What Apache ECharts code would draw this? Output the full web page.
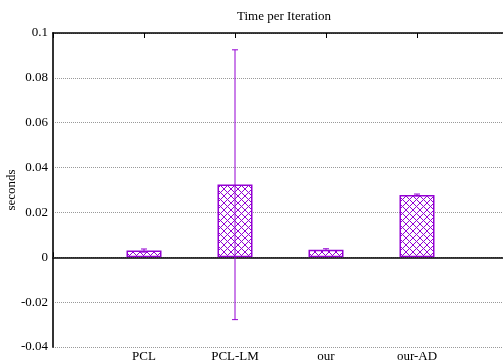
<!DOCTYPE html>
<html>
<head>
<meta charset="utf-8">
<script src="https://cdn.jsdelivr.net/npm/echarts@6/dist/echarts.min.js"></script>
<style>
  html, body { margin: 0; padding: 0; background: #fff; }
  #chart { width: 503px; height: 364px; }
</style>
</head>
<body>
<div id="chart"></div>
<script>
// data
var categories = ["", "PCL", "PCL-LM", "our", "our-AD", ""];
var times = [null, 0.0030, 0.0324, 0.0034, 0.0278, null];
var errLow = [null, 0.0023, -0.0278, 0.0030, 0.0274, null];
var errHigh = [null, 0.0037, 0.0925, 0.0038, 0.0282, null];
var yTicks = { min: -0.04, max: 0.1, step: 0.02 };

var purple = "#9400d3";
var font = "Liberation Serif";

// crosshatch fill for the bars
function hatch() {
    var c = document.createElement("canvas");
    c.width = 7;
    c.height = 7;
    var g = c.getContext("2d");
    g.fillStyle = "#fff";
    g.fillRect(0, 0, 7, 7);
    g.strokeStyle = purple;
    g.lineWidth = 1;
    g.beginPath();
    g.moveTo(0, 0); g.lineTo(7, 7);
    g.moveTo(7, 0); g.lineTo(0, 7);
    g.stroke();
    return c;
}

var errData = [];
for (var i = 0; i < categories.length; i++) {
    if (errLow[i] !== null) errData.push([i, errLow[i], errHigh[i]]);
}

var chart = echarts.init(document.getElementById("chart"));
chart.setOption({
    animation: false,
    title: {
        text: "Time per Iteration",
        left: 279,
        top: 5,
        textAlign: "center",
        textStyle: { fontFamily: font, fontSize: 13, fontWeight: "normal", color: "#000" }
    },
    // y axis title, rotated
    graphic: [{
        type: "text",
        x: 12,
        y: 190,
        rotation: Math.PI / 2,
        style: {
            text: "seconds",
            font: "13px 'Liberation Serif'",
            fill: "#000",
            align: "center",
            verticalAlign: "middle"
        }
    }],
    grid: { left: 53, right: -5, top: 33, bottom: 17, outerBoundsMode: "none", containLabel: false },
    xAxis: [
        {
            type: "category",
            data: categories,
            boundaryGap: false,
            axisLine: { lineStyle: { color: "#000", width: 1.5 } },
            axisTick: { inside: true, length: 5, lineStyle: { color: "#000" } },
            axisLabel: { fontFamily: font, fontSize: 13, color: "#000", margin: 3, interval: 0 },
            splitLine: { show: false }
        },
        {
            type: "category",
            data: categories,
            boundaryGap: false,
            position: "top",
            axisLine: { lineStyle: { color: "#000", width: 1.5 } },
            axisTick: { inside: true, length: 5, lineStyle: { color: "#000" } },
            axisLabel: { show: false },
            splitLine: { show: false }
        }
    ],
    yAxis: {
        type: "value",
        min: yTicks.min,
        max: yTicks.max,
        interval: yTicks.step,
        axisLine: { show: true, lineStyle: { color: "#333", width: 2 } },
        axisTick: { inside: true, length: 5, lineStyle: { color: "#000" } },
        axisLabel: {
            fontFamily: font, fontSize: 13, color: "#000", margin: 5,
            formatter: function (v) { return String(parseFloat(v.toFixed(2))); }
        },
        splitLine: { show: true, lineStyle: { color: "#999", type: [1, 1], width: 1 } }
    },
    series: [
        {
            type: "bar",
            data: times,
            barWidth: 35,
            itemStyle: {
                color: { image: hatch(), repeat: "repeat" },
                borderColor: purple,
                borderWidth: 1.5
            },
            markLine: {
                silent: true,
                symbol: "none",
                label: { show: false },
                lineStyle: { color: "#222", type: [1, 1], width: 1 },
                data: [{ yAxis: 0 }]
            }
        },
        {
            type: "custom",
            data: errData,
            z: 5,
            renderItem: function (params, api) {
                var lo = api.coord([api.value(0), api.value(1)]);
                var hi = api.coord([api.value(0), api.value(2)]);
                var cap = 3;
                var st = { stroke: purple, lineWidth: 1 };
                return {
                    type: "group",
                    children: [
                        { type: "line", shape: { x1: lo[0], y1: lo[1], x2: hi[0], y2: hi[1] }, style: st },
                        { type: "line", shape: { x1: lo[0] - cap, y1: lo[1], x2: lo[0] + cap, y2: lo[1] }, style: st },
                        { type: "line", shape: { x1: hi[0] - cap, y1: hi[1], x2: hi[0] + cap, y2: hi[1] }, style: st }
                    ]
                };
            }
        }
    ]
});
</script>
</body>
</html>
